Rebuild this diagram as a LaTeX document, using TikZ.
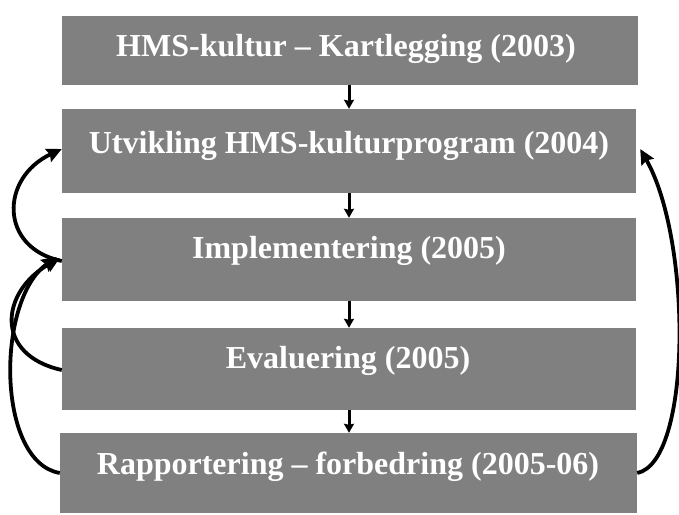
\documentclass[tikz,border=0pt]{standalone}
\usepackage{fontspec}
\setmainfont{Liberation Serif}
\usetikzlibrary{arrows.meta}
\definecolor{boxgray}{HTML}{808080}
\begin{document}
\begin{tikzpicture}[x=1pt,y=-1pt,
  stage/.style={fill=boxgray, draw=none, inner sep=0pt},
  lbl/.style={anchor=base, inner sep=0pt, text=white, font=\fontsize{32}{36}\selectfont\bfseries},
  conn/.style={line width=3pt, -{Stealth[length=9pt,width=10pt,inset=1pt]}},
  loopc/.style={line width=3.8pt, -{Stealth[length=15pt,width=14pt,inset=2pt]}}]
\useasboundingbox (0,0) rectangle (679,514);
\node[stage, minimum width=576pt, minimum height=69pt] (b1) at (350,50.5) {};
\node[stage, minimum width=574pt, minimum height=84pt] (b2) at (349,151) {};
\node[stage, minimum width=574pt, minimum height=83pt] (b3) at (349,259.5) {};
\node[stage, minimum width=574pt, minimum height=82pt] (b4) at (349,369) {};
\node[stage, minimum width=577pt, minimum height=80pt] (b5) at (348.5,473) {};
\node[lbl] (t1) at (346,56) {HMS-kultur -- Kartlegging (2003)};
\node[lbl] (t2) at (349,153) {Utvikling HMS-kulturprogram (2004)};
\node[lbl] (t3) at (349,258) {Implementering (2005)};
\node[lbl] (t4) at (348,368) {Evaluering (2005)};
\node[lbl] (t5) at (348,474) {Rapportering -- forbedring (2005-06)};
\draw[conn] (b1.south -| 349,0) -- (b2.north -| 349,0);
\draw[conn] (b2.south -| 349,0) -- (b3.north -| 349,0);
\draw[conn] (b3.south -| 349,0) -- (b4.north -| 349,0);
\draw[conn] (b4.south -| 349,0) -- (b5.north -| 349,0);
\draw[loopc] ([yshift=-1.5pt]b3.west) .. controls (-1,248) and (0,178) .. ([yshift=2pt]b2.west);
\draw[loopc] ([yshift=-1pt]b4.west) .. controls (-6,355) and (0,292) .. ([xshift=-2pt,yshift=1.5pt]b3.west);
\draw[loopc] (b5.west) .. controls (-4,462) and (-4,300) .. ([xshift=-5pt,yshift=2.5pt]b3.west);
\draw[loopc] (b5.east) .. controls (692,462) and (692,240) .. ([xshift=4pt,yshift=2pt]b2.east);
\end{tikzpicture}
\end{document}
